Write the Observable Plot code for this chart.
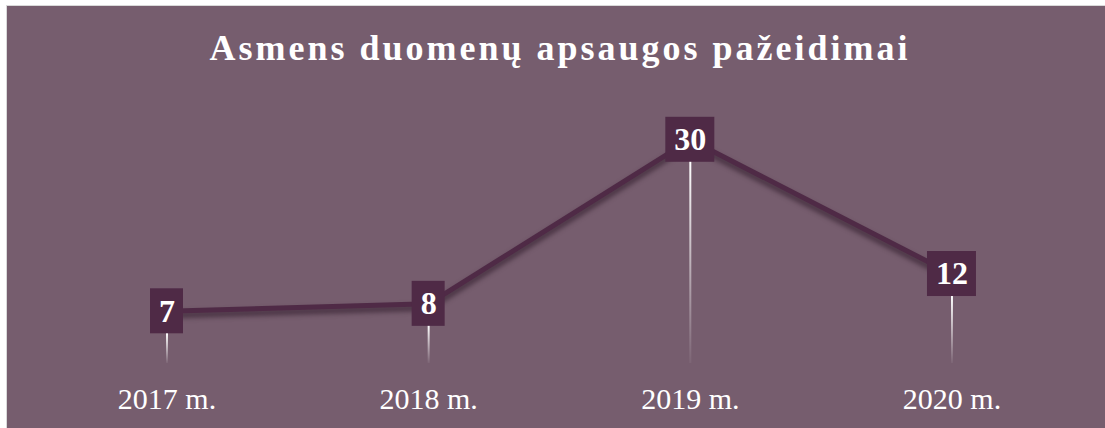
<!DOCTYPE html>
<html>
<head>
<meta charset="utf-8">
<script src="https://cdn.jsdelivr.net/npm/d3@7"></script>
<script src="https://cdn.jsdelivr.net/npm/@observablehq/plot@0.6"></script>
<style>
  html, body { margin: 0; padding: 0; background: #ffffff; width: 1105px; height: 428px; overflow: hidden; }
  #frame { position: absolute; left: 6px; top: 5px; width: 1120px; height: 440px; background: #765d6e; border-top: 1px solid #d9d9d9; border-left: 1px solid #d9d9d9; }
  #title { position: absolute; left: 0; top: 30px; width: 1120px; text-align: center; font-family: "Liberation Serif", "Times New Roman", serif; font-weight: bold; font-size: 36px; line-height: 36px; letter-spacing: 3px; color: #ffffff; white-space: nowrap; }
  #chart { position: absolute; left: 7px; top: 90px; }
</style>
</head>
<body>
<div id="frame"></div>
<div id="title">Asmens duomenų apsaugos pažeidimai</div>
<div id="chart"></div>
<script>
const years = [2017, 2018, 2019, 2020];
const yearLabels = ["2017 m.", "2018 m.", "2019 m.", "2020 m."];
const values = [7, 8, 30, 12];

const data = years.map((y, i) => ({year: y, label: yearLabels[i], value: values[i]}));
const single = data.filter(d => String(d.value).length === 1);
const double = data.filter(d => String(d.value).length > 1);

const boxColor = "#4f2a46";
const lineColor = "#4f2a46";
const serif = "'Liberation Serif', 'Times New Roman', serif";

const boxOpts = {x1: "year", x2: "year", y1: "value", y2: "value", fill: boxColor, insetTop: -22.5, insetBottom: -22.5};

const chart = Plot.plot({
  width: 1098,
  height: 338,
  marginLeft: 28.67,
  marginRight: 22.7,
  marginTop: 12,
  marginBottom: 65,
  style: {background: "transparent", overflow: "visible"},
  x: {type: "linear", domain: [2016.5, 2020.5], axis: null},
  y: {domain: [0, 35], axis: null},
  marks: [
    Plot.ruleX(data, {x: "year", y1: "value", y2: 0, stroke: "#ffffff", strokeWidth: 2, ariaLabel: () => "drop"}),
    Plot.line(data, {x: "year", y: "value", stroke: "#2a1524", strokeOpacity: 0.6, strokeWidth: 6, dy: 4, ariaLabel: () => "shadow"}),
    Plot.line(data, {x: "year", y: "value", stroke: lineColor, strokeWidth: 5}),
    Plot.rect(single, {...boxOpts, insetLeft: -16.5, insetRight: -16.5}),
    Plot.rect(double, {...boxOpts, insetLeft: -24.5, insetRight: -24.5}),
    Plot.text(data, {x: "year", y: "value", text: d => String(d.value), fill: "#ffffff", fontSize: 32, fontWeight: "bold", fontFamily: serif}),
    Plot.text(data, {x: "year", y: 0, dy: 36, text: "label", fill: "#ffffff", fontSize: 30, fontFamily: serif})
  ]
});

document.getElementById("chart").appendChild(chart);

// styling: blurred shadow under the line and fading drop lines
const svg = d3.select(chart);
svg.selectAll('[aria-label="shadow"]').style("filter", "blur(2.5px)");
let defs = svg.select("defs");
if (defs.empty()) defs = svg.insert("defs", ":first-child");
const drops = [];
svg.selectAll('[aria-label="drop"]').each(function() {
  if (this.tagName.toLowerCase() === "line") drops.push(this);
  else d3.select(this).selectAll("line").each(function() { drops.push(this); });
});
drops.forEach((node, i) => {
  const el = d3.select(node);
  const y1 = +el.attr("y1"), y2 = +el.attr("y2");
  const top = Math.min(y1, y2) + 22, bottom = Math.max(y1, y2);
  const id = "fade" + i;
  const g = defs.append("linearGradient").attr("id", id)
    .attr("gradientUnits", "userSpaceOnUse")
    .attr("x1", 0).attr("x2", 0).attr("y1", top).attr("y2", bottom);
  g.append("stop").attr("offset", 0).attr("stop-color", "#ffffff").attr("stop-opacity", 1);
  g.append("stop").attr("offset", 1).attr("stop-color", "#ffffff").attr("stop-opacity", 0.05);
  el.attr("stroke", `url(#${id})`);
});
</script>
</body>
</html>
